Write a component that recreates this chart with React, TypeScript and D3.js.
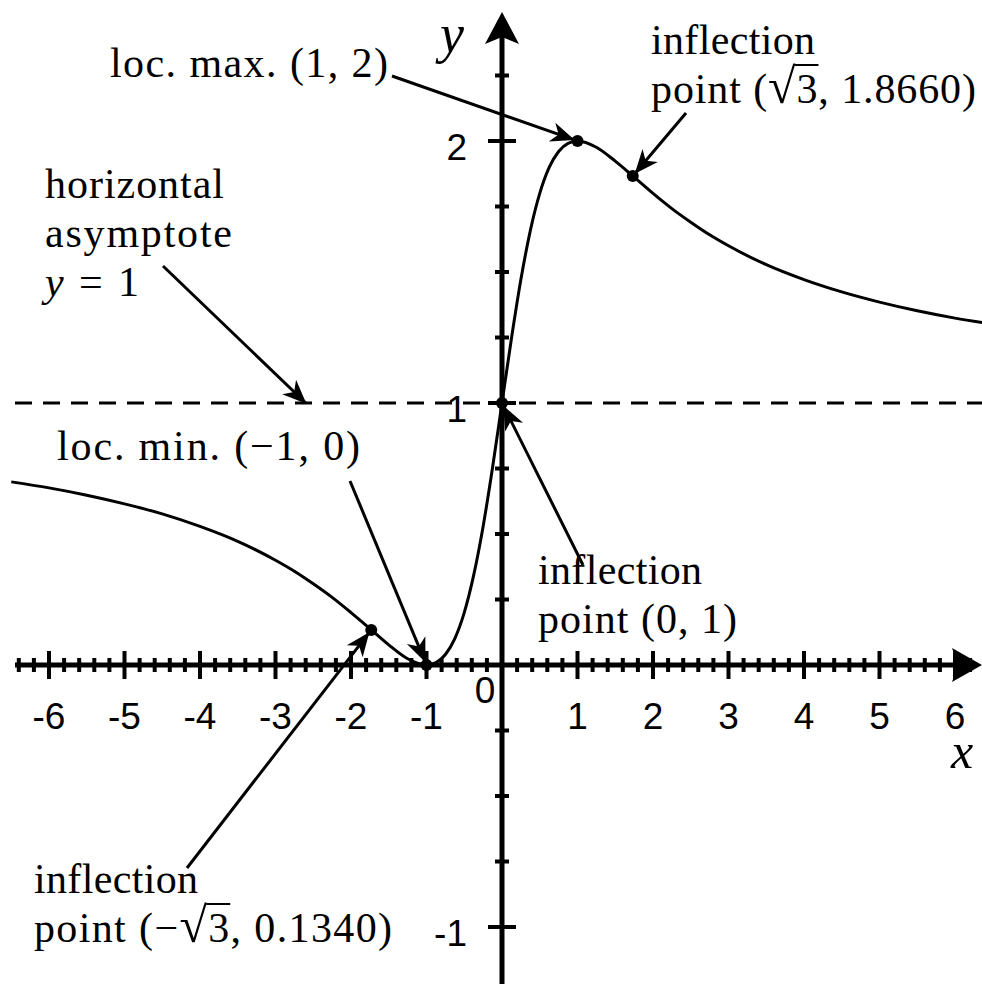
import React, { useEffect, useRef } from 'react';
import * as d3 from 'd3';

// y = (x+1)^2/(x^2+1)
const curveX = [-6.5, -6, -5.5, -5, -4.5, -4, -3.5, -3, -2.75, -2.5, -2.25, -2, -1.75, -1.5, -1.25, -1,
  -0.875, -0.75, -0.625, -0.5, -0.375, -0.25, -0.125, 0, 0.125, 0.25, 0.375, 0.5, 0.625, 0.75, 0.875, 1,
  1.25, 1.5, 1.75, 2, 2.25, 2.5, 2.75, 3, 3.5, 4, 4.5, 5, 5.5, 6, 6.5];
const curveY = [0.699, 0.676, 0.648, 0.615, 0.577, 0.529, 0.472, 0.4, 0.358, 0.31, 0.258, 0.2, 0.139, 0.077, 0.024, 0,
  0.009, 0.04, 0.101, 0.2, 0.343, 0.529, 0.754, 1, 1.246, 1.471, 1.658, 1.8, 1.899, 1.96, 1.991, 2,
  1.976, 1.923, 1.862, 1.8, 1.742, 1.69, 1.642, 1.6, 1.528, 1.471, 1.424, 1.385, 1.352, 1.324, 1.301];

// marked points: loc. min, inflections, loc. max
const pointX = [-1.732, -1, 0, 1, 1.732];
const pointY = [0.134, 0, 1, 2, 1.866];

const xTickValues = [-6, -5, -4, -3, -2, -1, 1, 2, 3, 4, 5, 6];
const xTickLabels = ['-6', '-5', '-4', '-3', '-2', '-1', '1', '2', '3', '4', '5', '6'];
const yTickValues = [-1, 1, 2];
const yTickLabels = ['-1', '1', '2'];
const asymptoteY = 1;

type Seg = { t: string; it?: boolean; ov?: boolean; big?: boolean };
type Line = { segs: Seg[]; w: number };
type Note = { x: number; y: number; lines: Line[]; from: [number, number]; to: [number, number] | number };

// text at pixel positions (w = line width), arrow heads point at data (index into points or [x, y])
const notes: Note[] = [
  { x: 110, y: 77, lines: [{ segs: [{ t: 'loc. max. (1, 2)' }], w: 278 }], from: [392, 76], to: 3 },
  {
    x: 651, y: 54, lines: [
      { segs: [{ t: 'inflection' }], w: 164 },
      { segs: [{ t: 'point (' }, { t: '√', big: true }, { t: '3', ov: true }, { t: ', 1.8660)' }], w: 325 }],
    from: [686, 113], to: 4
  },
  {
    x: 45, y: 198, lines: [
      { segs: [{ t: 'horizontal' }], w: 179 },
      { segs: [{ t: 'asymptote' }], w: 187 },
      { segs: [{ t: 'y', it: true }, { t: ' = 1' }], w: 94 }],
    from: [163, 266], to: [-2.6, 1]
  },
  { x: 57, y: 460, lines: [{ segs: [{ t: 'loc. min. (−1, 0)' }], w: 303 }], from: [350, 481], to: 1 },
  {
    x: 538, y: 584, lines: [
      { segs: [{ t: 'inflection' }], w: 164 },
      { segs: [{ t: 'point (0, 1)' }], w: 199 }],
    from: [583, 565], to: 2
  },
  {
    x: 34, y: 893, lines: [
      { segs: [{ t: 'inflection' }], w: 164 },
      { segs: [{ t: 'point (−' }, { t: '√', big: true }, { t: '3', ov: true }, { t: ', 0.1340)' }], w: 358 }],
    from: [187, 868], to: 0
  },
];

const W = 982, H = 984;
const serif = '"Liberation Serif", "DejaVu Serif", serif';
const sans = '"Liberation Sans", Arial, sans-serif';

export default function App() {
  const ref = useRef<SVGSVGElement>(null);

  useEffect(() => {
    const svg = d3.select(ref.current);
    svg.selectAll('*').remove();

    const x = d3.scaleLinear().domain([0, 1]).range([502, 577.5]);
    const y = d3.scaleLinear().domain([0, 1]).range([665, 403]);
    const x0 = x(0), y0 = y(0);

    svg.append('rect').attr('width', W).attr('height', H).attr('fill', '#fff');

    // arrow marker for annotations
    svg.append('defs').append('marker')
      .attr('id', 'ah').attr('markerUnits', 'userSpaceOnUse')
      .attr('viewBox', '-26 -11 28 22').attr('refX', 0).attr('refY', 0)
      .attr('markerWidth', 28).attr('markerHeight', 22).attr('orient', 'auto')
      .append('path').attr('d', 'M1,0 L-23,-10 L-16,0 L-23,10 Z').attr('fill', '#000');

    // asymptote
    svg.append('line')
      .attr('x1', 15).attr('x2', W).attr('y1', y(asymptoteY)).attr('y2', y(asymptoteY))
      .attr('stroke', '#000').attr('stroke-width', 3).attr('stroke-dasharray', '17 11');

    // x axis
    const g = svg.append('g');
    g.append('line').attr('x1', 15).attr('x2', W - 20).attr('y1', y0).attr('y2', y0)
      .attr('stroke', '#000').attr('stroke-width', 5);
    const xMinor = d3.range(-32, 33).map(i => i / 5).filter(v => Math.abs(v) > 1e-6);
    g.selectAll('.xt').data(xMinor).enter().append('line')
      .attr('x1', d => x(d)).attr('x2', d => x(d))
      .attr('y1', d => y0 - (Math.abs(d - Math.round(d)) < 1e-6 ? 14 : 7))
      .attr('y2', d => y0 + (Math.abs(d - Math.round(d)) < 1e-6 ? 14 : 7))
      .attr('stroke', '#000').attr('stroke-width', 4);
    g.append('path').attr('d', `M${W},${y0} L${W - 30},${y0 - 17} L${W - 24},${y0} L${W - 30},${y0 + 17} Z`).attr('fill', '#000');

    // y axis
    g.append('line').attr('x1', x0).attr('x2', x0).attr('y1', H).attr('y2', 30)
      .attr('stroke', '#000').attr('stroke-width', 5);
    const yMinor = d3.range(-4, 10).map(i => i / 4).filter(v => Math.abs(v) > 1e-6);
    g.selectAll('.yt').data(yMinor).enter().append('line')
      .attr('y1', d => y(d)).attr('y2', d => y(d))
      .attr('x1', d => x0 - (Number.isInteger(d) ? 14 : 7))
      .attr('x2', d => x0 + (Number.isInteger(d) ? 14 : 7))
      .attr('stroke', '#000').attr('stroke-width', 4);
    g.append('path').attr('d', `M${x0},12 L${x0 - 17},${44} L${x0},${37} L${x0 + 17},${44} Z`).attr('fill', '#000');

    // tick labels
    g.selectAll('.xl').data(xTickValues).enter().append('text')
      .attr('x', d => x(d)).attr('y', y0 + 64).attr('text-anchor', 'middle')
      .attr('font-family', sans).attr('font-size', 37)
      .text((d, i) => xTickLabels[i]);
    g.append('text').attr('x', x0 - 17).attr('y', y0 + 38).attr('text-anchor', 'middle')
      .attr('font-family', sans).attr('font-size', 37).text('0');
    g.selectAll('.yl').data(yTickValues).enter().append('text')
      .attr('x', x0 - 35).attr('y', d => y(d) + 19).attr('text-anchor', 'end')
      .attr('font-family', sans).attr('font-size', 37)
      .text((d, i) => yTickLabels[i]);

    // axis names
    g.append('text').attr('x', 440).attr('y', 52).attr('font-family', serif).attr('font-style', 'italic')
      .attr('font-size', 54).text('y');
    g.append('text').attr('x', 951).attr('y', 768).attr('font-family', serif).attr('font-style', 'italic')
      .attr('font-size', 50).text('x');

    // curve
    const pts = curveX.map((v, i) => [v, curveY[i]] as [number, number]);
    const line = d3.line<[number, number]>().x(d => x(d[0])).y(d => y(d[1])).curve(d3.curveMonotoneX);
    svg.append('path').attr('d', line(pts)).attr('fill', 'none').attr('stroke', '#000').attr('stroke-width', 3);

    // annotations
    notes.forEach(n => {
      const tx = typeof n.to === 'number' ? [x(pointX[n.to]), y(pointY[n.to])] : [x(n.to[0]), y(n.to[1])];
      const dx = tx[0] - n.from[0], dy = tx[1] - n.from[1];
      const len = Math.hypot(dx, dy);
      const cut = typeof n.to === 'number' ? 4 : 0;
      svg.append('line')
        .attr('x1', n.from[0]).attr('y1', n.from[1])
        .attr('x2', tx[0] - dx / len * cut).attr('y2', tx[1] - dy / len * cut)
        .attr('stroke', '#000').attr('stroke-width', 3).attr('marker-end', 'url(#ah)');

      n.lines.forEach((ln, li) => {
        const t = svg.append('text')
          .attr('x', n.x).attr('y', n.y + li * 49)
          .attr('font-family', serif).attr('font-size', 42)
          .attr('textLength', ln.w).attr('lengthAdjust', 'spacing')
          .style('white-space', 'pre');
        let idx = 0;
        const ovIdx: number[] = [];
        ln.segs.forEach(s => {
          const ts = t.append('tspan').text(s.t);
          if (s.it) ts.attr('font-style', 'italic');
          if (s.big) ts.attr('font-size', 50);
          if (s.ov) ovIdx.push(idx);
          idx += s.t.length;
        });
        const node = t.node() as SVGTextElement;
        ovIdx.forEach(i => {
          const a = node.getStartPositionOfChar(i);
          const b = node.getEndPositionOfChar(i);
          const by = n.y + li * 49;
          svg.append('line')
            .attr('x1', a.x - 2).attr('x2', b.x + 1)
            .attr('y1', by - 38).attr('y2', by - 38)
            .attr('stroke', '#000').attr('stroke-width', 2);
        });
      });
    });

    // marked points
    svg.selectAll('.pt').data(pointX).enter().append('circle')
      .attr('cx', d => x(d)).attr('cy', (d, i) => y(pointY[i])).attr('r', 6).attr('fill', '#000');
  }, []);

  return (
    <svg ref={ref} width={W} height={H}
      style={{ position: 'absolute', left: 0, top: 0, display: 'block' }} />
  );
}
